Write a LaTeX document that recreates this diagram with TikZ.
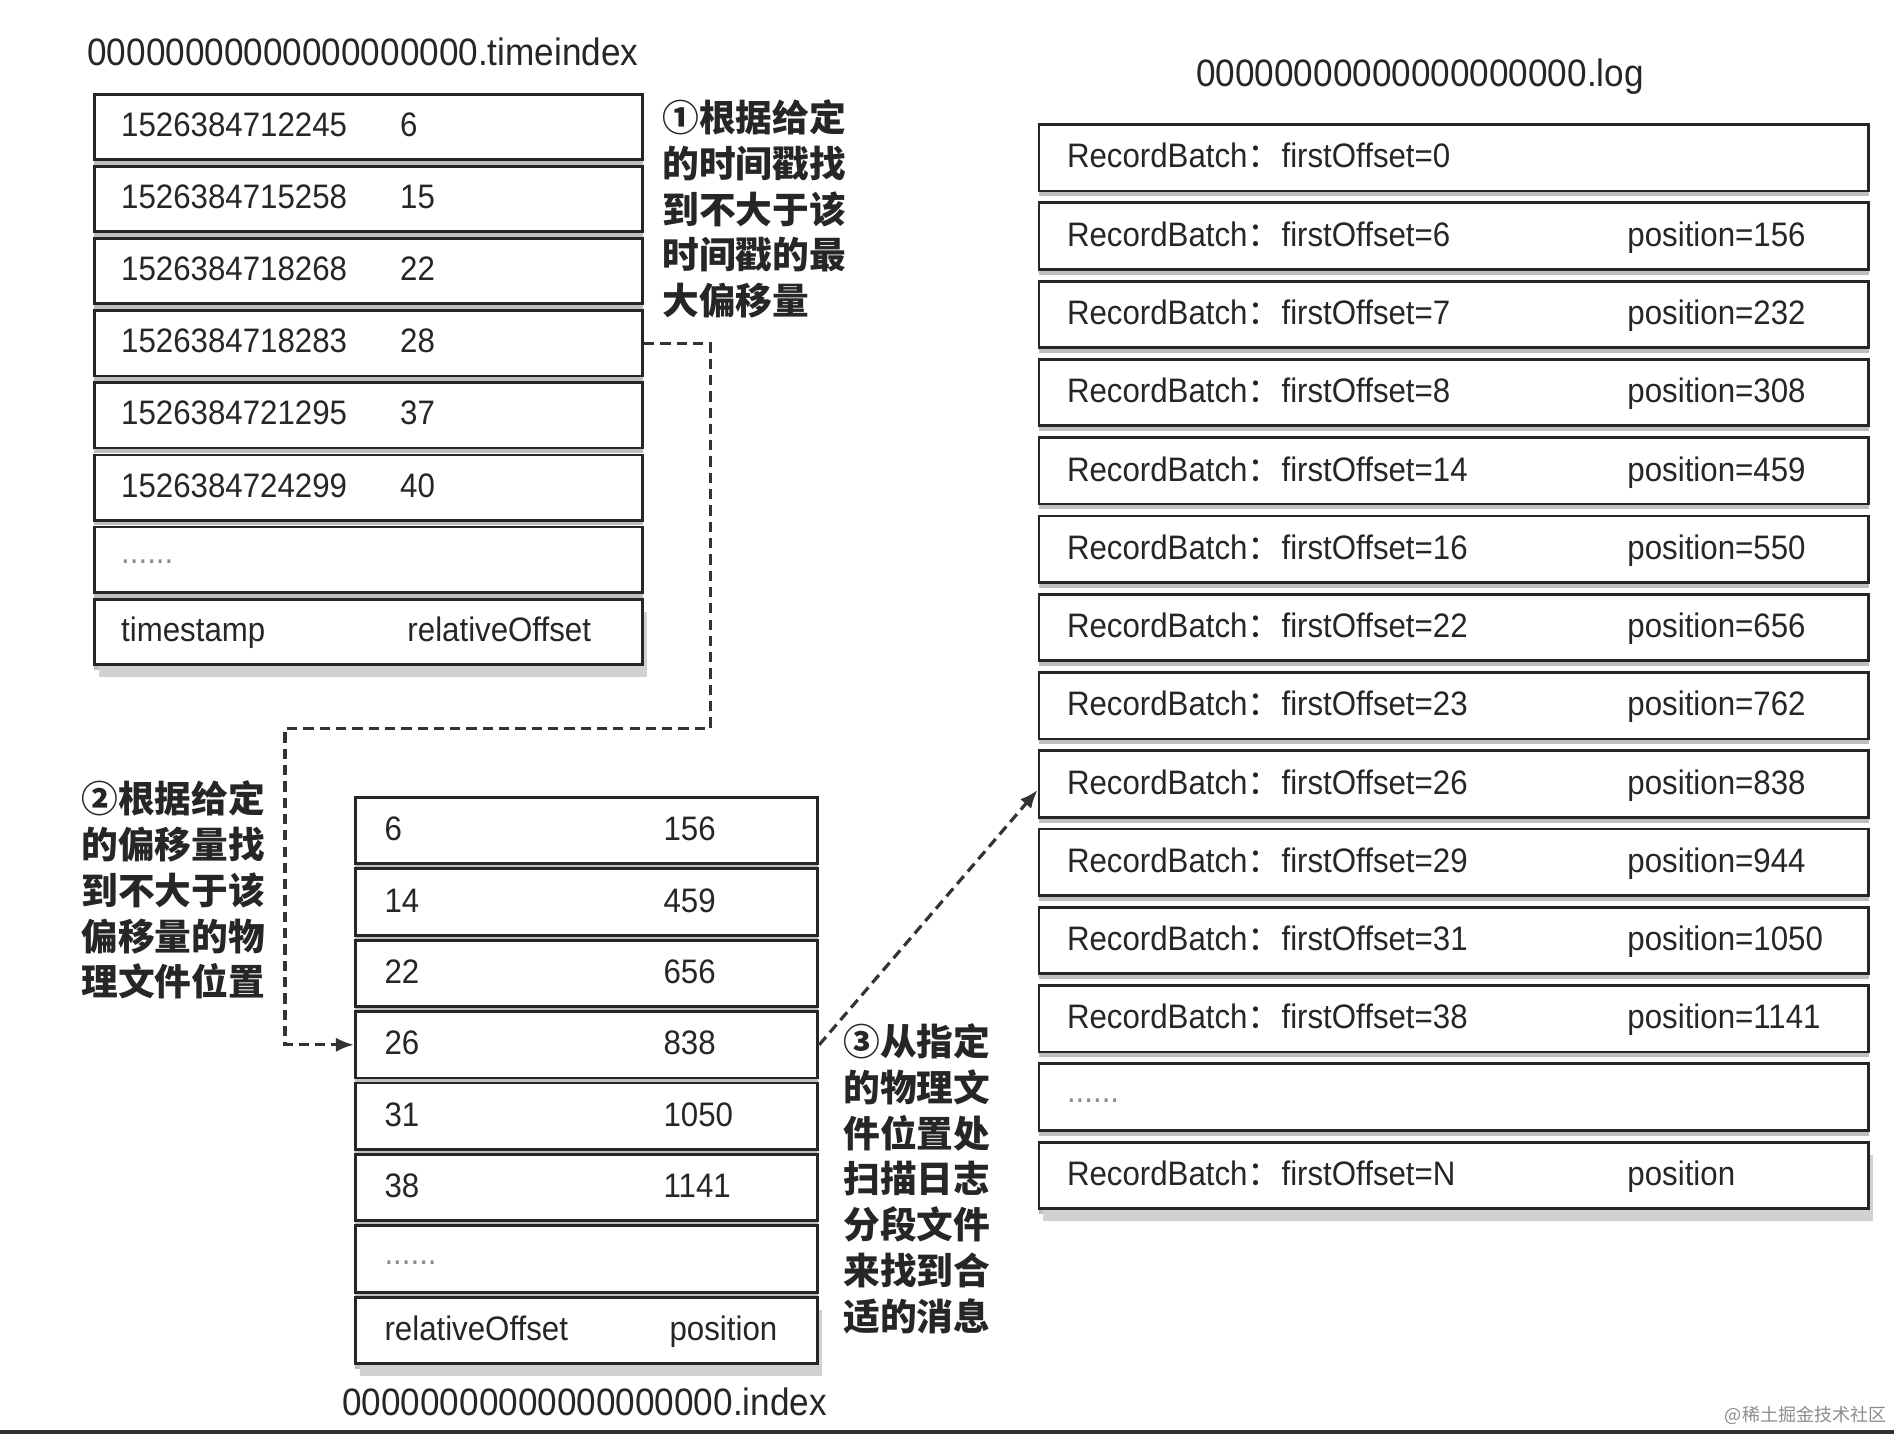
\documentclass[tikz,border=0pt]{standalone}
\usepackage{fontspec}
\setmainfont[FakeStretch=0.92]{Liberation Sans}
\newfontfamily\cjk{Noto Sans CJK SC}
\usetikzlibrary{arrows.meta,shadows,calc}
\definecolor{ink}{HTML}{262626}
\definecolor{barcol}{HTML}{2E3236}
\tikzset{
  rowbox/.style={draw=black!85, line width=1.3pt, fill=white, rectangle, inner sep=0pt, anchor=north west,
    drop shadow={shadow xshift=0pt, shadow yshift=-2.5pt, fill=black!50}},
  lastbox/.style={rowbox, general shadow={shadow xshift=2pt, shadow yshift=-6pt, fill=black!18}},
  celltext/.style={anchor=base west, inner sep=0pt, text=ink, font=\fontsize{16}{19}\selectfont},
  dots/.style={anchor=base west, inner sep=0pt, text=black!45, font=\fontsize{16}{19}\selectfont},
  titletext/.style={anchor=base west, inner sep=0pt, text=ink, font=\fontsize{18}{21}\selectfont},
  note/.style={anchor=north west, inner sep=0pt, align=left, text=ink, font=\cjk\bfseries\fontsize{17.3}{21.6}\selectfont},
  conn/.style={draw=black!80, line width=1.5pt, dash pattern=on 0.17cm off 0.1cm, -{Latex[length=0.3cm,width=0.24cm]}}
}
\begin{document}
\begin{tikzpicture}[x=0.02cm, y=-0.02cm]
\useasboundingbox (0,0) rectangle (1568,1187);

% ---------- timeindex ----------
\node[titletext] (ttitle) at (72,54.5) {00000000000000000000.timeindex};
\foreach \k in {1,...,7}{
  \node[rowbox, minimum width=9.08cm, minimum height=1.08cm] (t\k) at (77,{77+(\k-1)*59.7}) {};
}
\node[lastbox, minimum width=9.08cm, minimum height=1.08cm] (t8) at (77,{77+7*59.7}) {};
\foreach \k/\a/\b in {1/1526384712245/6, 2/1526384715258/15, 3/1526384718268/22, 4/1526384718283/28, 5/1526384721295/37, 6/1526384724299/40}{
  \node[celltext] (ta\k) at (100,{77+(\k-1)*59.7+36}) {\a};
  \node[celltext] (tb\k) at (331,{77+(\k-1)*59.7+36}) {\b};
}
\node[dots] (ta7) at (100,{77+6*59.7+31}) {......};
\node[celltext] (ta8) at (100,{77+7*59.7+36}) {timestamp};
\node[celltext] (tb8) at (337,{77+7*59.7+36}) {relativeOffset};

\node[note] (n1) at (548,82) {①根据给定\\的时间戳找\\到不大于该\\时间戳的最\\大偏移量};

% ---------- index ----------
\foreach \k in {1,...,7}{
  \node[rowbox, minimum width=7.66cm, minimum height=1.1cm] (i\k) at (293,{659+(\k-1)*59.1}) {};
}
\node[lastbox, minimum width=7.66cm, minimum height=1.1cm] (i8) at (293,{659+7*59.1}) {};
\foreach \k/\a/\b in {1/6/156, 2/14/459, 3/22/656, 4/26/838, 5/31/1050, 6/38/1141}{
  \node[celltext] (ia\k) at (318,{659+(\k-1)*59.1+37}) {\a};
  \node[celltext] (ib\k) at (549,{659+(\k-1)*59.1+37}) {\b};
}
\node[dots] (ia7) at (318,{659+6*59.1+33}) {......};
\node[celltext] (ia8) at (318,{659+7*59.1+37}) {relativeOffset};
\node[celltext] (ib8) at (554,{659+7*59.1+37}) {position};
\node[titletext] (ititle) at (283,1171.5) {00000000000000000000.index};

\node[note] (n2) at (67,646) {②根据给定\\的偏移量找\\到不大于该\\偏移量的物\\理文件位置};
\node[note] (n3) at (698,847) {③从指定\\的物理文\\件位置处\\扫描日志\\分段文件\\来找到合\\适的消息};

% ---------- log ----------
\node[titletext] (ltitle) at (990,71.5) {00000000000000000000.log};
\foreach \k in {1,...,13}{
  \node[rowbox, minimum width=13.74cm, minimum height=1.1cm] (l\k) at (859,{102+(\k-1)*64.8}) {};
}
\node[lastbox, minimum width=13.74cm, minimum height=1.1cm] (l14) at (859,{102+13*64.8}) {};
\node[celltext] (la1) at (883,{102+37}) {RecordBatch{\cjk：}firstOffset=0};
\foreach \k/\a/\b in {2/6/156, 3/7/232, 4/8/308, 5/14/459, 6/16/550, 7/22/656, 8/23/762, 9/26/838, 10/29/944, 11/31/1050, 12/38/1141}{
  \node[celltext] (la\k) at (883,{102+(\k-1)*64.8+37}) {RecordBatch{\cjk：}firstOffset=\a};
  \node[celltext] (lb\k) at (1347,{102+(\k-1)*64.8+37}) {position=\b};
}
\node[dots] (la13) at (883,{102+12*64.8+33}) {......};
\node[celltext] (la14) at (883,{102+13*64.8+37}) {RecordBatch{\cjk：}firstOffset=N};
\node[celltext] (lb14) at (1347,{102+13*64.8+37}) {position};

% ---------- connectors ----------
\coordinate (c1) at (588,603);
\draw[conn] (t4.east) -| (c1) -| ([xshift=-1.14cm]i4.west) -- (i4.west);
\draw[conn] (i4.east) -- ([yshift=-0.1cm]l9.west);

% ---------- footer ----------
\node[anchor=east, inner sep=0pt, text=black!45, font=\cjk\fontsize{8.5}{10}\selectfont] (wm) at (1562,1172) {@稀土掘金技术社区};
\fill[barcol] (0,1183.5) rectangle (1568,1187);
\end{tikzpicture}
\end{document}
